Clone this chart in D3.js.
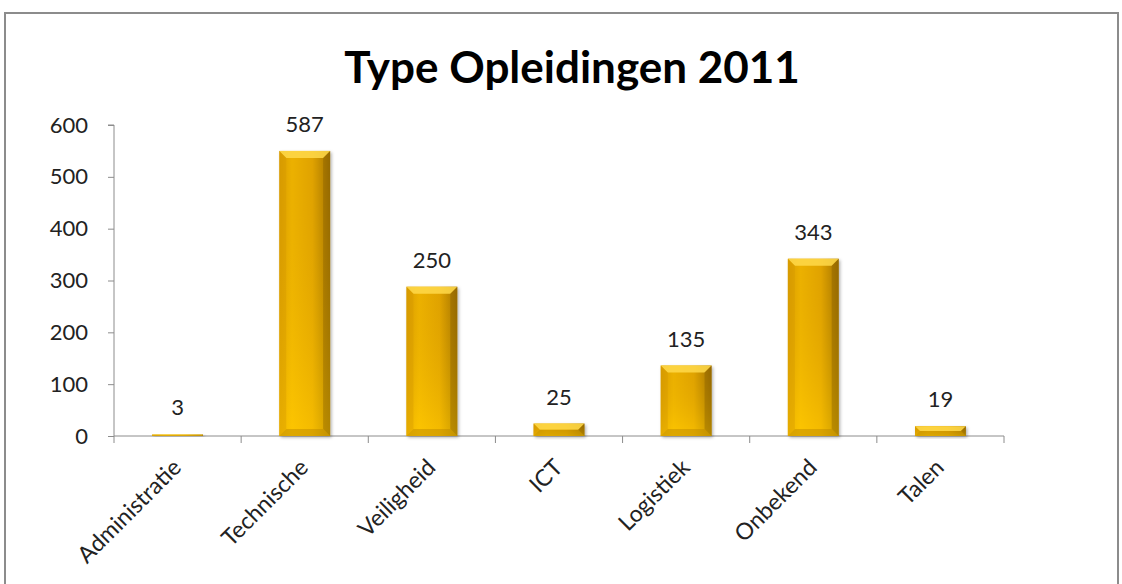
<!DOCTYPE html>
<html>
<head>
<meta charset="utf-8">
<script src="https://cdn.jsdelivr.net/npm/d3@7"></script>
<style>
  body { margin: 0; background: white; }
  text { font-family: Lato, "Open Sans", sans-serif; }
</style>
</head>
<body>
<script>
const categories = ["Administratie", "Technische", "Veiligheid", "ICT", "Logistiek", "Onbekend", "Talen"];
// bar heights as drawn, and the data labels shown above them
const barValues = [3, 550, 288, 24, 136, 342, 19];
const labelValues = [3, 587, 250, 25, 135, 343, 19];
const yTicks = [0, 100, 200, 300, 400, 500, 600];

const width = 1122;
const height = 584;
const margin = { top: 125, left: 114, right: 118, bottom: 148 };
const fontSize = 22;

const svg = d3.select("body").append("svg")
  .attr("width", width)
  .attr("height", height);

const defs = svg.append("defs");
const hg = defs.append("linearGradient").attr("id", "barH").attr("x1", 0).attr("x2", 1).attr("y1", 0).attr("y2", 0);
hg.append("stop").attr("offset", "0%").attr("stop-color", "#e4a600");
hg.append("stop").attr("offset", "25%").attr("stop-color", "#fbbf00");
hg.append("stop").attr("offset", "65%").attr("stop-color", "#ecad00");
hg.append("stop").attr("offset", "100%").attr("stop-color", "#a07200");
const vg = defs.append("linearGradient").attr("id", "barV").attr("x1", 0).attr("x2", 0).attr("y1", 0).attr("y2", 1);
vg.append("stop").attr("offset", "0%").attr("stop-color", "#b07800").attr("stop-opacity", 0.2);
vg.append("stop").attr("offset", "100%").attr("stop-color", "#ffcc00").attr("stop-opacity", 0.5);
const sh = defs.append("filter").attr("id", "shadow").attr("x", "-20%").attr("y", "-20%").attr("width", "150%").attr("height", "150%");
sh.append("feDropShadow").attr("dx", 1.5).attr("dy", 1.5).attr("stdDeviation", 1.5)
  .attr("flood-color", "#000").attr("flood-opacity", 0.3);

// chart border
svg.append("rect")
  .attr("x", 5).attr("y", 13)
  .attr("width", 1113).attr("height", 600)
  .attr("fill", "none")
  .attr("stroke", "#8c8c8c")
  .attr("stroke-width", 2);

svg.append("text")
  .attr("x", 572).attr("y", 83)
  .attr("text-anchor", "middle")
  .attr("font-size", 44)
  .attr("font-weight", "bold")
  .attr("fill", "#000")
  .text("Type Opleidingen 2011");

const x = d3.scaleBand()
  .domain(categories)
  .range([margin.left, width - margin.right]);

const y = d3.scaleLinear()
  .domain([0, 600])
  .range([height - margin.bottom, margin.top]);

const yAxis = svg.append("g")
  .attr("transform", `translate(${margin.left},0)`)
  .call(d3.axisLeft(y).tickValues(yTicks).tickSize(6).tickPadding(20));
yAxis.selectAll("path, line").attr("stroke", "#8c8c8c");
yAxis.select(".domain").attr("d", `M-6,${y(600)}H0V${y(0)}`);
yAxis.selectAll("text").attr("font-size", fontSize).attr("fill", "#222")
  .style("font-family", "Lato, 'Open Sans', sans-serif");

// x axis with ticks on band edges
const xg = svg.append("g");
xg.append("line")
  .attr("x1", margin.left).attr("x2", width - margin.right)
  .attr("y1", y(0)).attr("y2", y(0))
  .attr("stroke", "#8c8c8c");
const edges = categories.map(c => x(c)).concat([x.range()[1]]);
xg.selectAll("line.tick")
  .data(edges)
  .join("line")
  .attr("class", "tick")
  .attr("x1", d => d).attr("x2", d => d)
  .attr("y1", y(0)).attr("y2", y(0) + 7)
  .attr("stroke", "#8c8c8c");

xg.selectAll("text.cat")
  .data(categories)
  .join("text")
  .attr("class", "cat")
  .attr("transform", d => `translate(${x(d) + x.bandwidth() / 2 + 5},${y(0) + 33}) rotate(-45)`)
  .attr("text-anchor", "end")
  .attr("font-size", 23)
  .attr("fill", "#222")
  .text(d => d);

// bars
const bw = x.bandwidth() * 0.4;
const bars = svg.append("g")
  .selectAll("g")
  .data(categories.map((c, i) => ({ c, v: barValues[i], l: labelValues[i] })))
  .join("g");

bars.each(function (d) {
  const g = d3.select(this);
  const x0 = x(d.c) + (x.bandwidth() - bw) / 2;
  const x1 = x0 + bw;
  const y0 = y(d.v);
  const y1 = y(0);
  const h = y1 - y0;
  const b = Math.min(7, h / 2);
  g.append("rect").attr("x", x0).attr("y", y0).attr("width", bw).attr("height", h)
    .attr("fill", "url(#barH)").attr("filter", "url(#shadow)");
  g.append("rect").attr("x", x0).attr("y", y0).attr("width", bw).attr("height", h).attr("fill", "url(#barV)");
  // bevels
  g.append("polygon")
    .attr("points", [[x0, y0], [x1, y0], [x1 - b, y0 + b], [x0 + b, y0 + b]].join(" "))
    .attr("fill", "#ffd94a").attr("opacity", 0.85);
  g.append("polygon")
    .attr("points", [[x1, y0], [x1, y1], [x1 - b, y1 - b], [x1 - b, y0 + b]].join(" "))
    .attr("fill", "#7a5500").attr("opacity", 0.35);
  g.append("polygon")
    .attr("points", [[x0, y0], [x0 + b, y0 + b], [x0 + b, y1 - b], [x0, y1]].join(" "))
    .attr("fill", "#d09600").attr("opacity", 0.35);
  g.append("polygon")
    .attr("points", [[x0, y1], [x0 + b, y1 - b], [x1 - b, y1 - b], [x1, y1]].join(" "))
    .attr("fill", "#b88400").attr("opacity", 0.45);

  g.append("text")
    .attr("x", x0 + bw / 2)
    .attr("y", y0 - 19)
    .attr("text-anchor", "middle")
    .attr("font-size", fontSize)
    .attr("fill", "#222")
    .text(d.l);
});
</script>
</body>
</html>
